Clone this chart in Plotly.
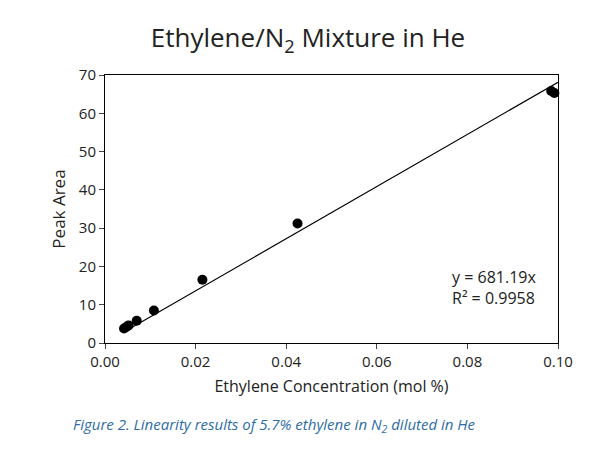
import plotly.graph_objects as go

conc = [0.0042, 0.0047, 0.0052, 0.0070, 0.0108, 0.0215, 0.0425, 0.0985, 0.0992]
area = [3.8, 4.2, 4.6, 5.8, 8.5, 16.5, 31.2, 65.8, 65.3]
slope = 681.19
fit_x = [0.0040, 0.1000]
fit_y = [slope * v for v in fit_x]
xticks = [0.0, 0.02, 0.04, 0.06, 0.08, 0.10]
yticks = [0, 10, 20, 30, 40, 50, 60, 70]

fig = go.Figure()
fig.add_trace(go.Scatter(x=fit_x, y=fit_y, mode="lines", line=dict(color="black", width=1.2), showlegend=False))
fig.add_trace(go.Scatter(x=conc, y=area, mode="markers", marker=dict(color="black", size=10), showlegend=False, cliponaxis=False))

font = "Open Sans, Liberation Sans, sans-serif"
fig.update_layout(
    width=600, height=464, plot_bgcolor="white", paper_bgcolor="white",
    margin=dict(l=97, r=50, t=67, b=129),
    font=dict(family=font, color="#222", size=15),
    title=dict(text="Ethylene/N<sub>2</sub> Mixture in He", x=0.5, xanchor="center", y=0.955, yanchor="top", font=dict(size=26, color="#222")),
)
fig.update_xaxes(range=[0, 0.1], tickvals=xticks, tickformat=".2f", ticks="outside", ticklen=5,
                 showline=True, linecolor="black", mirror=True, showgrid=False, zeroline=False,
                 title=dict(text="Ethylene Concentration (mol %)", standoff=10, font=dict(size=16)))
fig.update_yaxes(range=[0, 70], tickvals=yticks, ticks="outside", ticklen=5,
                 showline=True, linecolor="black", mirror=True, showgrid=False, zeroline=False,
                 title=dict(text="Peak Area", standoff=8, font=dict(size=17)))
fig.add_annotation(xref="x", yref="y", x=0.0955, y=14.5, text="y = 681.19x<br>R² = 0.9958",
                   showarrow=False, xanchor="right", align="left", font=dict(size=16, color="#222"))
fig.add_annotation(xref="paper", yref="paper", x=-0.075, y=-0.355, xanchor="left",
                   text="<i>Figure 2. Linearity results of 5.7% ethylene in N<sub>2</sub> diluted in He</i>",
                   showarrow=False, font=dict(size=15, color="#2e6da4"))
fig.write_html("out.html")
